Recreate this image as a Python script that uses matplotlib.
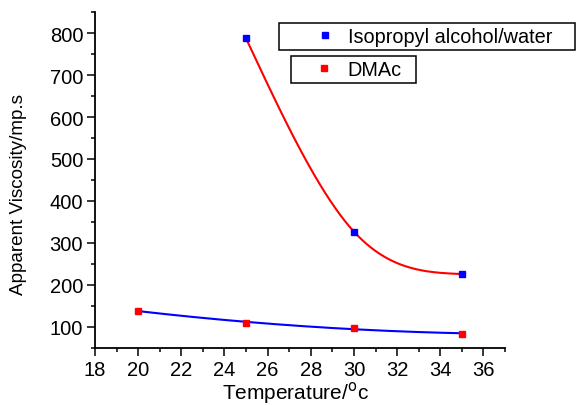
import numpy as np
import matplotlib
matplotlib.use("Agg")
import matplotlib.pyplot as plt
from matplotlib.lines import Line2D
from matplotlib.patches import Rectangle
from matplotlib.ticker import MultipleLocator

# ---- data ----
ipa_temp = [25, 30, 35]
ipa_visc = [787, 327, 226]
dmac_temp = [20, 25, 30, 35]
dmac_visc = [139, 109, 98, 84]
x_ticks = [18, 20, 22, 24, 26, 28, 30, 32, 34, 36]
y_ticks = [100, 200, 300, 400, 500, 600, 700, 800]

plt.rcParams['font.family'] = ['Liberation Sans', 'DejaVu Sans']


def natural_spline(xp, yp, xs):
    xp = np.asarray(xp, float)
    yp = np.asarray(yp, float)
    n = len(xp)
    h = np.diff(xp)
    A = np.zeros((n, n))
    r = np.zeros(n)
    A[0, 0] = 1
    A[-1, -1] = 1
    for i in range(1, n - 1):
        A[i, i - 1] = h[i - 1]
        A[i, i] = 2 * (h[i - 1] + h[i])
        A[i, i + 1] = h[i]
        r[i] = 6 * ((yp[i + 1] - yp[i]) / h[i] - (yp[i] - yp[i - 1]) / h[i - 1])
    M = np.linalg.solve(A, r)
    out = np.empty_like(xs)
    for k, x in enumerate(xs):
        i = min(max(np.searchsorted(xp, x) - 1, 0), n - 2)
        hi = h[i]
        a = xp[i + 1] - x
        b = x - xp[i]
        out[k] = (M[i] * a ** 3 / (6 * hi) + M[i + 1] * b ** 3 / (6 * hi)
                  + (yp[i] / hi - M[i] * hi / 6) * a
                  + (yp[i + 1] / hi - M[i + 1] * hi / 6) * b)
    return out


fig = plt.figure(figsize=(5.76, 4.06), dpi=100)
ax = fig.add_axes([95 / 576, 57 / 406, 410 / 576, 336 / 406])

xs_ipa = np.linspace(min(ipa_temp), max(ipa_temp), 200)
ax.plot(xs_ipa, natural_spline(ipa_temp, ipa_visc, xs_ipa), color='#ff0000', lw=1.5, zorder=2)
coef = np.polyfit(dmac_temp, dmac_visc, 2)
xs_d = np.linspace(min(dmac_temp), max(dmac_temp), 200)
ax.plot(xs_d, np.polyval(coef, xs_d), color='#0000ff', lw=1.5, zorder=2)

ax.plot(ipa_temp, ipa_visc, 's', color='#0000ff', ms=4, mec='#0000ff', zorder=3)
ax.plot(dmac_temp, dmac_visc, 's', color='#ff0000', ms=4, mec='#ff0000', zorder=3)

ax.set_xlim(18, 37)
ax.set_ylim(50, 850)
ax.set_xticks(x_ticks)
ax.set_yticks(y_ticks)
ax.xaxis.set_minor_locator(MultipleLocator(1))
ax.yaxis.set_minor_locator(MultipleLocator(50))
ax.spines['top'].set_visible(False)
ax.spines['right'].set_visible(False)
for s in ('left', 'bottom'):
    ax.spines[s].set_linewidth(1.3)
ax.tick_params(which='major', direction='out', length=5.5, width=1.1, labelsize=14.5, pad=3)
ax.tick_params(which='minor', direction='out', length=3, width=1.1)

ax.set_xlabel('Temperature/$^{\\mathrm{o}}$c', fontsize=15)
ax.set_ylabel('Apparent Viscosity/mp.s', fontsize=13.6)
ax.xaxis.set_label_coords(0.488, -0.092)
ax.yaxis.set_label_coords(-0.166, 0.46)

fs = 14.3
h1 = Line2D([], [], ls='none', marker='s', color='#0000ff', ms=4)
h2 = Line2D([], [], ls='none', marker='s', color='#ff0000', ms=4)
common = dict(frameon=False, fontsize=fs, handlelength=1.0, handletextpad=0.66,
              borderpad=0, borderaxespad=0, loc='center left')
fig.legend([h1], ['Isopropyl alcohol/water'], bbox_to_anchor=(315 / 576, 1 - 37.5 / 406), **common)
fig.legend([h2], ['DMAc'], bbox_to_anchor=(314 / 576, 1 - 70.5 / 406), **common)

fig.add_artist(Rectangle((279 / 576, 1 - 51 / 406), 296 / 576, 27 / 406,
                         transform=fig.transFigure, fill=False, ec='black', lw=1.1))
fig.add_artist(Rectangle((291 / 576, 1 - 84 / 406), 125 / 576, 27 / 406,
                         transform=fig.transFigure, fill=False, ec='black', lw=1.1))

fig.savefig('out.png', dpi=100)
